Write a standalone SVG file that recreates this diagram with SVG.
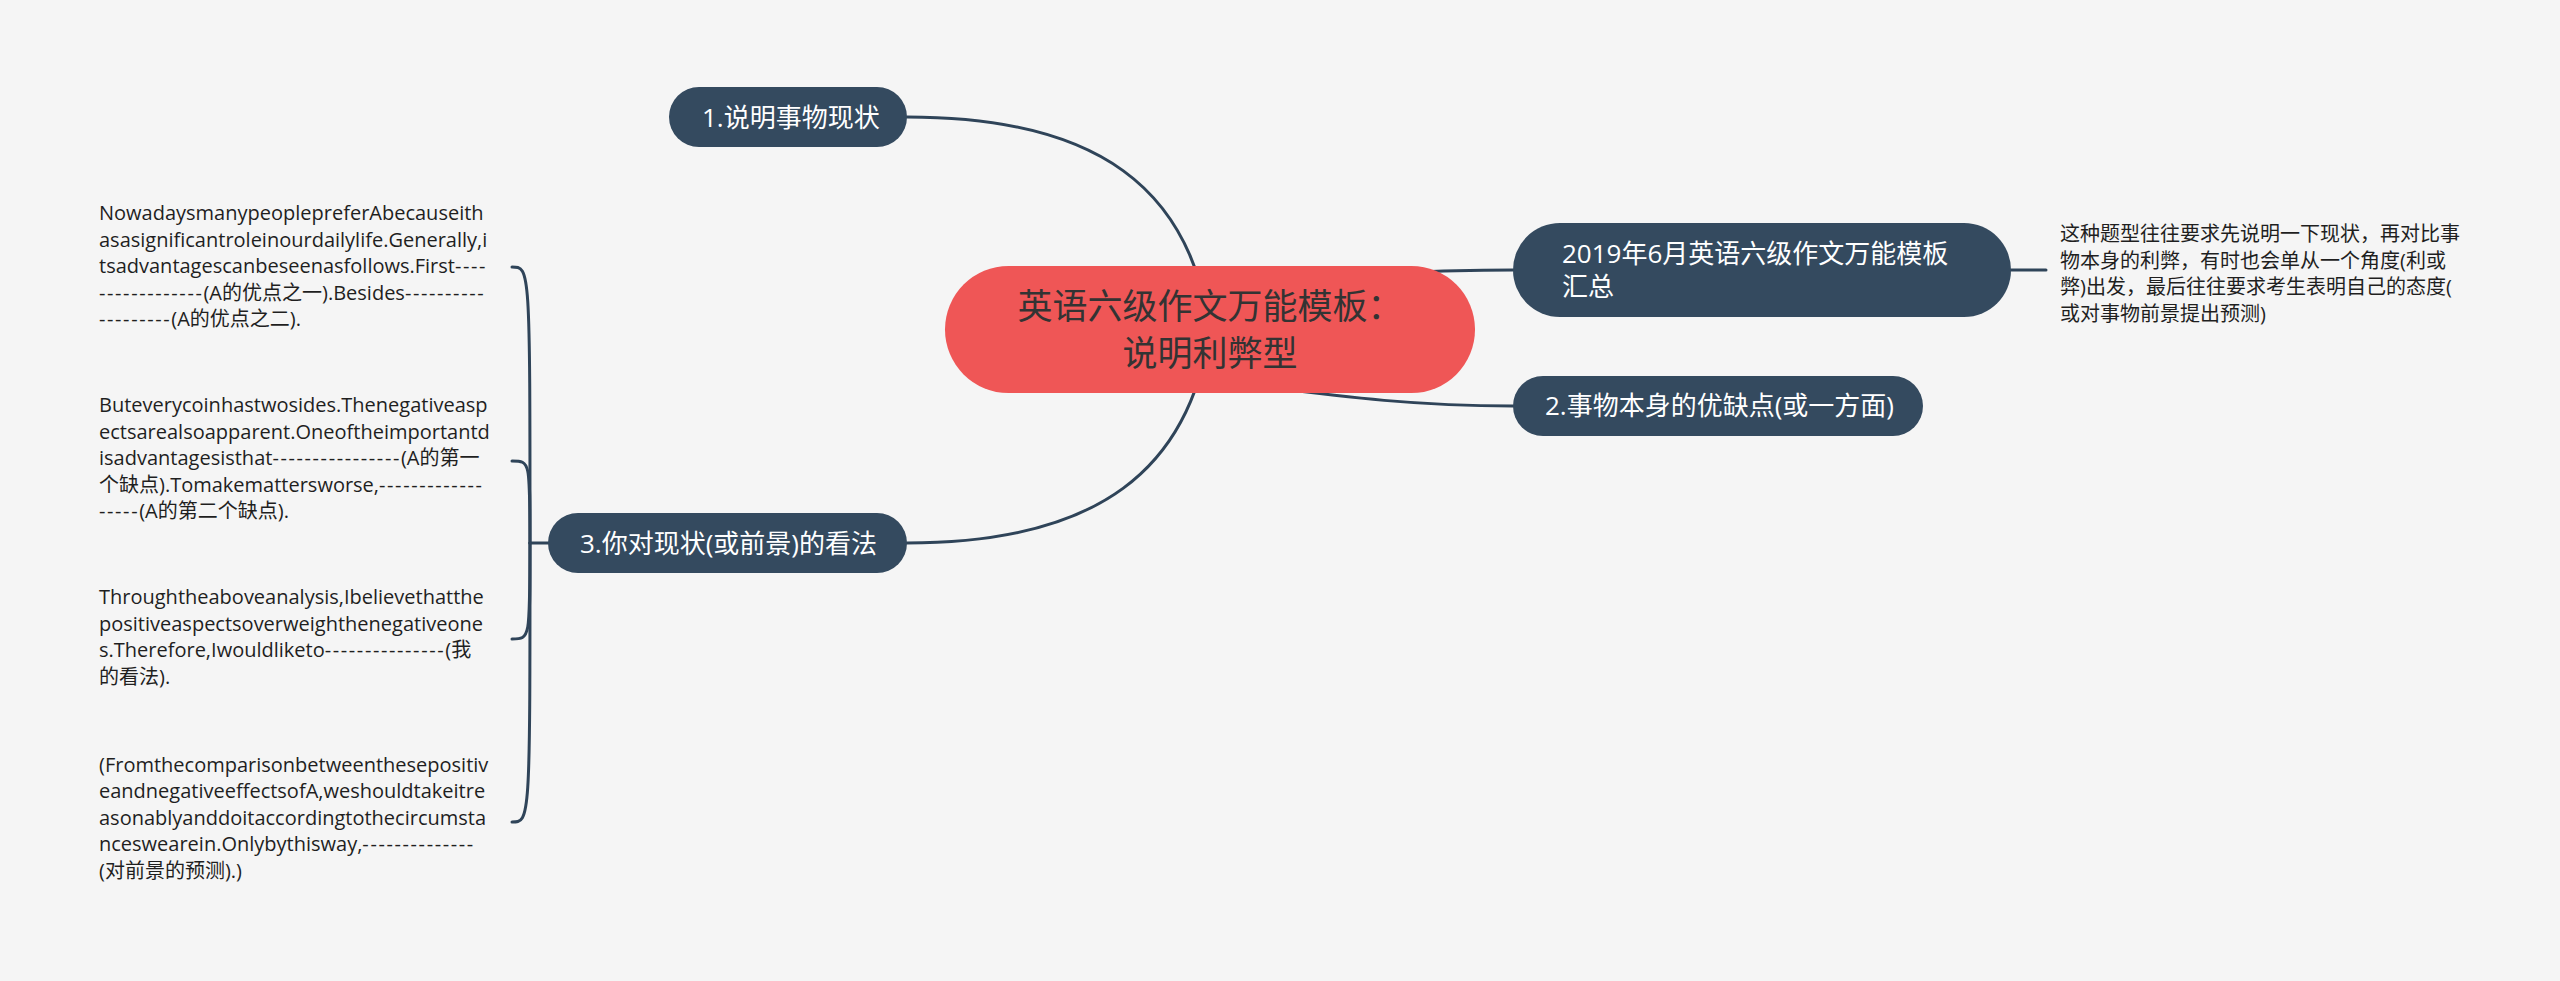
<svg xmlns="http://www.w3.org/2000/svg" width="2560" height="981" viewBox="0 0 2560 981">
<style>
.bg{fill:#f5f5f5}
.conn{fill:none;stroke:#2f4459;stroke-width:3;stroke-linecap:round}
.topic{fill:#344a5f}
.root{fill:#ef5656}
.tw{font-family:"Open Sans","Noto Sans CJK SC",sans-serif;font-size:26px;fill:#ffffff}
.tr{font-family:"Open Sans","Noto Sans CJK SC",sans-serif;font-size:35px;fill:#333333;text-anchor:middle}
.tb{font-family:"Open Sans","Noto Sans CJK SC",sans-serif;font-size:20px;fill:#1f1f1f}
.d{letter-spacing:1.6px}
</style>
<rect class="bg" x="0" y="0" width="2560" height="981"/>
<g id="connectors">
<path class="conn" d="M907,117 C1100,117 1190,190 1210,329"/>
<path class="conn" d="M907,543 C1100,543 1190,468 1210,329"/>
<path class="conn" d="M1300,285 C1380,272 1440,270 1513,270"/>
<path class="conn" d="M1250,385 C1350,398 1420,406 1513,406"/>
<path class="conn" d="M2011,270 L2046,270"/>
<path class="conn" d="M548,543 L530,543"/>
<path class="conn" d="M530,543 C530,267 530,267 512,267"/>
<path class="conn" d="M530,543 C530,461 530,461 512,461"/>
<path class="conn" d="M530,543 C530,639 530,639 512,639"/>
<path class="conn" d="M530,543 C530,822 530,822 512,822"/>
</g>
<g id="root">
<rect class="root" x="945" y="266" width="530" height="127" rx="63.5" ry="63.5"/>
<text class="tr" x="1210" y="319">英语六级作文万能模板：</text>
<text class="tr" x="1210" y="366">说明利弊型</text>
</g>
<g id="node1">
<rect class="topic" x="669" y="87" width="238" height="60" rx="30" ry="30"/>
<text class="tw" x="702" y="127">1.说明事物现状</text>
</g>
<g id="node2019">
<rect class="topic" x="1513" y="223" width="498" height="94" rx="47" ry="47"/>
<text class="tw" x="1562" y="263">2019年6月英语六级作文万能模板</text>
<text class="tw" x="1562" y="296">汇总</text>
</g>
<g id="node2">
<rect class="topic" x="1513" y="376" width="410" height="60" rx="30" ry="30"/>
<text class="tw" x="1545" y="415">2.事物本身的优缺点(或一方面)</text>
</g>
<g id="node3">
<rect class="topic" x="548" y="513" width="359" height="60" rx="30" ry="30"/>
<text class="tw" x="580" y="553">3.你对现状(或前景)的看法</text>
</g>
<g id="note2019">
<text class="tb" x="2060" y="241">这种题型往往要求先说明一下现状，再对比事</text>
<text class="tb" x="2060" y="267.5">物本身的利弊，有时也会单从一个角度(利或</text>
<text class="tb" x="2060" y="294">弊)出发，最后往往要求考生表明自己的态度(</text>
<text class="tb" x="2060" y="320.5">或对事物前景提出预测)</text>
</g>
<g id="block1">
<text class="tb" x="99" y="220">NowadaysmanypeoplepreferAbecauseith</text>
<text class="tb" x="99" y="246.5">asasignificantroleinourdailylife.Generally,i</text>
<text class="tb" x="99" y="273">tsadvantagescanbeseenasfollows.First<tspan class="d">----</tspan></text>
<text class="tb" x="99" y="299.5"><tspan class="d">-------------</tspan>(A的优点之一).Besides<tspan class="d">----------</tspan></text>
<text class="tb" x="99" y="326"><tspan class="d">---------</tspan>(A的优点之二).</text>
</g>
<g id="block2">
<text class="tb" x="99" y="412">Buteverycoinhastwosides.Thenegativeasp</text>
<text class="tb" x="99" y="438.5">ectsarealsoapparent.Oneoftheimportantd</text>
<text class="tb" x="99" y="465">isadvantagesisthat<tspan class="d">----------------</tspan>(A的第一</text>
<text class="tb" x="99" y="491.5">个缺点).Tomakemattersworse,<tspan class="d">-------------</tspan></text>
<text class="tb" x="99" y="518"><tspan class="d">-----</tspan>(A的第二个缺点).</text>
</g>
<g id="block3">
<text class="tb" x="99" y="604">Throughtheaboveanalysis,Ibelievethatthe</text>
<text class="tb" x="99" y="630.5">positiveaspectsoverweighthenegativeone</text>
<text class="tb" x="99" y="657">s.Therefore,Iwouldliketo<tspan class="d">---------------</tspan>(我</text>
<text class="tb" x="99" y="683.5">的看法).</text>
</g>
<g id="block4">
<text class="tb" x="99" y="771.5">(Fromthecomparisonbetweenthesepositiv</text>
<text class="tb" x="99" y="798">eandnegativeeffectsofA,weshouldtakeitre</text>
<text class="tb" x="99" y="824.5">asonablyanddoitaccordingtothecircumsta</text>
<text class="tb" x="99" y="851">nceswearein.Onlybythisway,<tspan class="d">--------------</tspan></text>
<text class="tb" x="99" y="877.5">(对前景的预测).)</text>
</g>
</svg>
